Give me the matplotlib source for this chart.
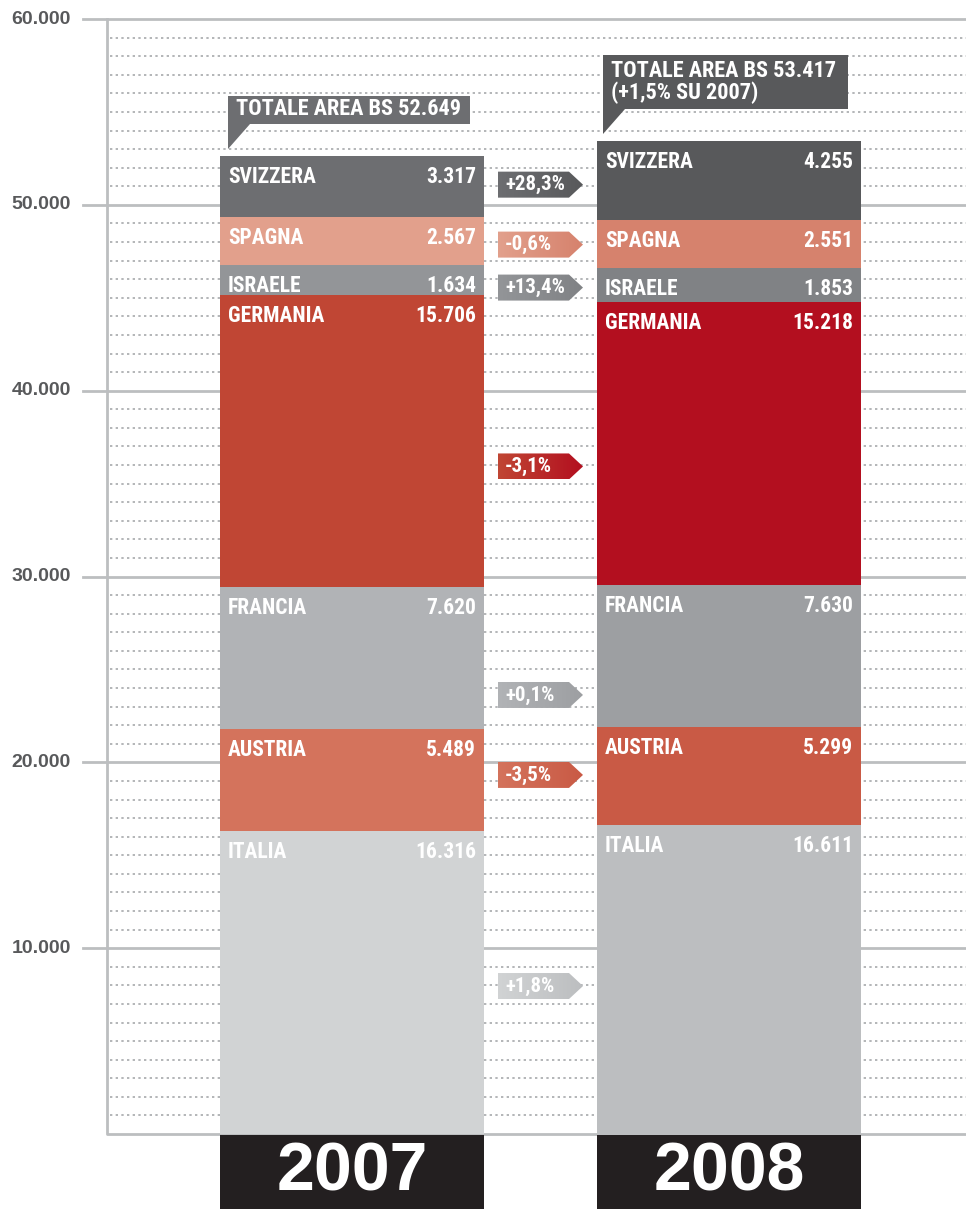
import matplotlib
matplotlib.use("Agg")
import matplotlib.pyplot as plt
from matplotlib import font_manager
from matplotlib.patches import Polygon
from matplotlib.colors import LinearSegmentedColormap
import numpy as np

# data
years = ["2007", "2008"]
countries = ["ITALIA", "AUSTRIA", "FRANCIA", "GERMANIA", "ISRAELE", "SPAGNA", "SVIZZERA"]
values_2007 = [16316, 5489, 7620, 15706, 1634, 2567, 3317]
values_2008 = [16611, 5299, 7630, 15218, 1853, 2551, 4255]
changes = ["+1,8%", "-3,5%", "+0,1%", "-3,1%", "+13,4%", "-0,6%", "+28,3%"]
totals = [52649, 53417]
total_labels = ["TOTALE AREA BS 52.649", "TOTALE AREA BS 53.417\n(+1,5% SU 2007)"]
yticks = [10000, 20000, 30000, 40000, 50000, 60000]

colors_2007 = ["#d1d3d4", "#d4735c", "#b1b3b6", "#c04634", "#939598", "#e2a08c", "#6d6e71"]
colors_2008 = ["#bcbec0", "#c95a45", "#9d9fa2", "#b30f1f", "#808285", "#d6826d", "#58595b"]

# vertical nudge of each change arrow, in pixels (positive = down)
arrow_nudge = [5, -3, 38, 24, 5, 2, 1]

# pick a condensed face if one is installed
_fonts = font_manager.fontManager.ttflist
_names = {f.name for f in _fonts}
STRETCH = "normal"
cond = None
for cand in ["Roboto Condensed", "Liberation Sans Narrow", "Open Sans Condensed"]:
    if cand in _names:
        cond = cand
        break
if cond is None:
    if any(f.name == "DejaVu Sans" and f.stretch == "condensed" for f in _fonts):
        cond, STRETCH = "DejaVu Sans", "condensed"
    else:
        cond = "Liberation Sans"
NARROW = [cond, "DejaVu Sans"]
WIDE = ["Liberation Sans", "DejaVu Sans"]


def fmt(v):
    return f"{v:,}".replace(",", ".")


W, H = 966, 1209
ZERO_PX = 1134            # pixel row of the zero line
px = 60000 / 1115         # data units per pixel

fig = plt.figure(figsize=(W / 100, H / 100), dpi=100)
ax = fig.add_axes([0, 0, 1, 1])
ax.axis("off")

label_kw = dict(fontweight="bold", color="white", family=NARROW,
                fontstretch=STRETCH, zorder=5)

# grid: dotted every 1000, solid every 10000
grid_col = "#bcbec0"
for v in range(1000, 60000, 1000):
    if v % 10000:
        ax.plot([110, W], [v, v], color="#a7a9ac", lw=1.2,
                ls=(0, (1.4, 2.0)), zorder=1)
for v in yticks:
    ax.plot([83, W], [v, v], color=grid_col, lw=2, zorder=1)
    ax.text(71, v, fmt(v), ha="right", va="center", fontsize=14,
            fontweight="bold", color="#58595b", family=WIDE)
ax.plot([107, 107, W], [60000, 0, 0], color=grid_col, lw=2,
        solid_joinstyle="round", zorder=1)

# stacked bars
bar_left = [220, 597]
bar_w = 264
series = [values_2007, values_2008]
series_cols = [colors_2007, colors_2008]
bottoms_all = []
for i, (vals, cols) in enumerate(zip(series, series_cols)):
    xc = bar_left[i] + bar_w / 2
    bottoms = np.concatenate([[0], np.cumsum(vals)[:-1]])
    bottoms_all.append(bottoms)
    ax.bar([xc] * len(vals), vals, width=bar_w, bottom=bottoms,
           color=cols, linewidth=0, zorder=3)
    for name, v, b in zip(countries, vals, bottoms):
        ty = b + v - 21 * px
        ax.text(bar_left[i] + 8, ty, name, ha="left", va="center",
                fontsize=15.5, **label_kw)
        ax.text(bar_left[i] + bar_w - 8, ty, fmt(v), ha="right", va="center",
                fontsize=15.5, **label_kw)

    # year box under the axis
    ax.bar([xc], [-(H - ZERO_PX) * px], width=bar_w, bottom=-1 * px,
           color="#231f20", linewidth=0, zorder=3)
    ax.text(xc, -(H - ZERO_PX) * px / 2 - 1 * px, years[i], ha="center",
            va="center", fontsize=49, fontweight="bold", color="white",
            family=WIDE, zorder=5)

    # total callout
    total = totals[i]
    xl = bar_left[i] + (8 if i == 0 else 6)
    box_w = 242 if i == 0 else 245
    box_h = 28 if i == 0 else 54
    tip = total + 7 * px
    bot = total + 32 * px
    top = bot + box_h * px
    ax.add_patch(Polygon([(xl, tip), (xl, top), (xl + box_w, top),
                          (xl + box_w, bot), (xl + 22, bot)],
                         closed=True, facecolor=cols[-1], edgecolor="none",
                         zorder=4))
    ax.text(xl + 8, (bot + top) / 2 + 0.5 * px, total_labels[i], ha="left",
            va="center", fontsize=16, linespacing=1.0, **label_kw)

# change arrows between the bars, with a left-to-right colour gradient
xa, xb, xt = 498, 569, 583
hh = 13 * px
grad = np.linspace(0, 1, 256).reshape(1, -1)
for k, label in enumerate(changes):
    m07 = bottoms_all[0][k] + values_2007[k] / 2
    m08 = bottoms_all[1][k] + values_2008[k] / 2
    yc = (m07 + m08) / 2 - arrow_nudge[k] * px
    poly = Polygon([(xa, yc - hh), (xb, yc - hh), (xt, yc), (xb, yc + hh),
                    (xa, yc + hh)], closed=True, facecolor="none",
                   edgecolor="none")
    ax.add_patch(poly)
    cmap = LinearSegmentedColormap.from_list("g", [colors_2007[k], colors_2008[k]])
    im = ax.imshow(grad, extent=[xa, xt, yc - hh, yc + hh], aspect="auto",
                   cmap=cmap, interpolation="bilinear", zorder=4)
    im.set_clip_path(poly)
    ax.text(xa + 7, yc, label, ha="left", va="center", fontsize=15,
            **label_kw)

ax.set_xlim(0, W)
ax.set_ylim(-(H - ZERO_PX) * px, ZERO_PX * px)

fig.savefig("out.png", dpi=100)
